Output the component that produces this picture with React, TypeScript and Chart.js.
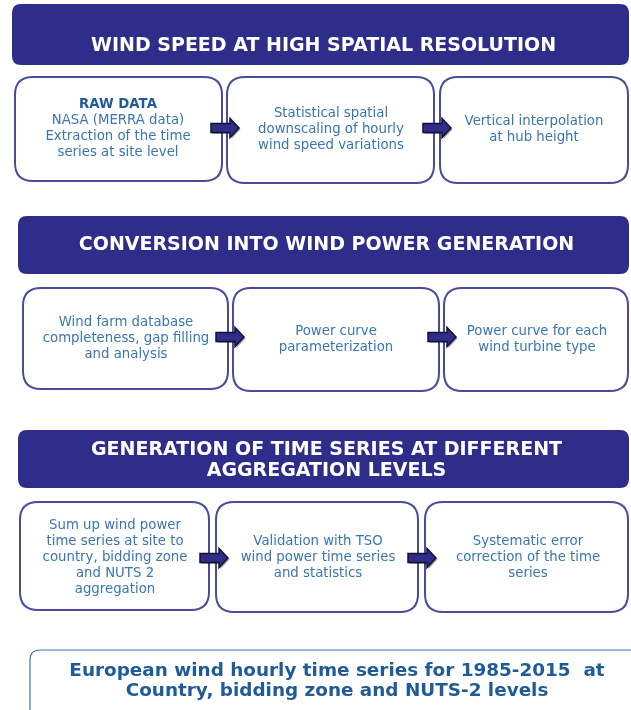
import React, { useEffect, useRef } from "react";
import { Chart, registerables } from "chart.js";
Chart.register(...registerables);

// ---- content ----
const headers: string[][] = [
  ["WIND SPEED AT HIGH SPATIAL RESOLUTION"],
  ["CONVERSION INTO WIND POWER GENERATION"],
  ["GENERATION OF TIME SERIES AT DIFFERENT", "AGGREGATION LEVELS"],
];
const row1Texts: string[][] = [
  ["RAW DATA", "NASA (MERRA data)", "Extraction of the time", "series at site level"],
  ["Statistical spatial", "downscaling of hourly", "wind speed variations"],
  ["Vertical interpolation", "at hub height"],
];
const row2Texts: string[][] = [
  ["Wind farm database", "completeness, gap filling", "and analysis"],
  ["Power curve", "parameterization"],
  ["Power curve for each", "wind turbine type"],
];
const row3Texts: string[][] = [
  ["Sum up wind power", "time series at site to", "country, bidding zone", "and NUTS 2", "aggregation"],
  ["Validation with TSO", "wind power time series", "and statistics"],
  ["Systematic error", "correction of the time", "series"],
];
const finalTexts: string[] = [
  "European wind hourly time series for 1985-2015  at",
  "Country, bidding zone and NUTS-2 levels",
];

// ---- layout (pixel-space coordinates mapped through chart scales) ----
type Rect = { x0: number; x1: number; y0: number; y1: number };
const headerRects: Rect[] = [
  { x0: 12, x1: 629, y0: 4, y1: 65 },
  { x0: 18, x1: 629, y0: 216, y1: 274 },
  { x0: 18, x1: 629, y0: 430, y1: 488 },
];
const headerTextY: number[][] = [[46], [245], [450, 471]];
const rowRects: Rect[][] = [
  [
    { x0: 15, x1: 222, y0: 77, y1: 181 },
    { x0: 227, x1: 434, y0: 77, y1: 183 },
    { x0: 440, x1: 628, y0: 77, y1: 183 },
  ],
  [
    { x0: 23, x1: 228, y0: 288, y1: 389 },
    { x0: 233, x1: 439, y0: 288, y1: 391 },
    { x0: 444, x1: 628, y0: 288, y1: 391 },
  ],
  [
    { x0: 20, x1: 209, y0: 502, y1: 610 },
    { x0: 216, x1: 418, y0: 502, y1: 612 },
    { x0: 425, x1: 628, y0: 502, y1: 612 },
  ],
];
const rowTextCenters: { cx: number; cy: number }[][] = [
  [ { cx: 118, cy: 129 }, { cx: 331, cy: 130 }, { cx: 534, cy: 130 } ],
  [ { cx: 126, cy: 339 }, { cx: 336, cy: 340 }, { cx: 537, cy: 340 } ],
  [ { cx: 115, cy: 558 }, { cx: 318, cy: 558 }, { cx: 528, cy: 558 } ],
];
const arrows: { x: number; y: number }[] = [
  { x: 211, y: 128 }, { x: 423, y: 128 },
  { x: 216, y: 337 }, { x: 428, y: 337 },
  { x: 200, y: 558 }, { x: 408, y: 558 },
];
const finalRect: Rect = { x0: 30, x1: 645, y0: 650, y1: 725 };
const finalTextY = [671, 691];
const finalCx = 337;

const NAVY = "#2e2e8a";
const BORDER = "#4b4b9e";
const TEXT = "#3a76b2";
const FINAL_TEXT = "#1f5b98";
const FONT = "'DejaVu Sans', Verdana, sans-serif";

const allRowTexts = [row1Texts, row2Texts, row3Texts];

function roundRect(ctx: CanvasRenderingContext2D, x0: number, y0: number, x1: number, y1: number, r: number) {
  ctx.beginPath();
  ctx.moveTo(x0 + r, y0);
  ctx.lineTo(x1 - r, y0);
  ctx.quadraticCurveTo(x1, y0, x1, y0 + r);
  ctx.lineTo(x1, y1 - r);
  ctx.quadraticCurveTo(x1, y1, x1 - r, y1);
  ctx.lineTo(x0 + r, y1);
  ctx.quadraticCurveTo(x0, y1, x0, y1 - r);
  ctx.lineTo(x0, y0 + r);
  ctx.quadraticCurveTo(x0, y0, x0 + r, y0);
  ctx.closePath();
}

const flowPlugin = {
  id: "flow",
  afterDatasetsDraw(chart: any) {
    const ctx: CanvasRenderingContext2D = chart.ctx;
    const xs = chart.scales.x;
    const ys = chart.scales.y;
    const px = (v: number) => xs.getPixelForValue(v);
    const py = (v: number) => ys.getPixelForValue(v);
    ctx.save();
    ctx.textAlign = "center";
    ctx.textBaseline = "middle";

    // headers
    headers.forEach((lines, i) => {
      const r = headerRects[i];
      ctx.fillStyle = NAVY;
      roundRect(ctx, px(r.x0), py(r.y0), px(r.x1), py(r.y1), 9);
      ctx.fill();
      ctx.fillStyle = "#ffffff";
      ctx.font = `bold 19px ${FONT}`;
      const cx = (px(r.x0) + px(r.x1)) / 2 + 3;
      lines.forEach((t, j) => ctx.fillText(t, cx, py(headerTextY[i][j])));
    });

    // boxes
    rowRects.forEach((row, ri) => {
      row.forEach((r, bi) => {
        ctx.fillStyle = "#ffffff";
        ctx.strokeStyle = BORDER;
        ctx.lineWidth = 2;
        roundRect(ctx, px(r.x0), py(r.y0), px(r.x1), py(r.y1), 18);
        ctx.fill();
        ctx.stroke();
        const lines = allRowTexts[ri][bi];
        const c = rowTextCenters[ri][bi];
        const lh = 16;
        const startY = c.cy - ((lines.length - 1) * lh) / 2;
        lines.forEach((t, j) => {
          const bold = t === "RAW DATA";
          ctx.font = `${bold ? "bold " : ""}13.3px ${FONT}`;
          ctx.fillStyle = bold ? FINAL_TEXT : TEXT;
          ctx.fillText(t, px(c.cx), py(startY + j * lh));
        });
      });
    });

    // arrows
    arrows.forEach((a) => {
      const x = px(a.x), y = py(a.y);
      const draw = () => {
        ctx.beginPath();
        ctx.moveTo(x, y - 4.5);
        ctx.lineTo(x + 19, y - 4.5);
        ctx.lineTo(x + 19, y - 9.5);
        ctx.lineTo(x + 28, y);
        ctx.lineTo(x + 19, y + 9.5);
        ctx.lineTo(x + 19, y + 4.5);
        ctx.lineTo(x, y + 4.5);
        ctx.closePath();
      };
      ctx.save();
      ctx.translate(1.5, 1.5);
      draw();
      ctx.fillStyle = "rgba(0,0,0,0.35)";
      ctx.fill();
      ctx.restore();
      draw();
      ctx.fillStyle = NAVY;
      ctx.fill();
      ctx.strokeStyle = "#111133";
      ctx.lineWidth = 1.5;
      ctx.stroke();
    });

    // final box
    ctx.strokeStyle = "#3a76b2";
    ctx.lineWidth = 1.2;
    ctx.fillStyle = "#ffffff";
    roundRect(ctx, px(finalRect.x0), py(finalRect.y0), px(finalRect.x1), py(finalRect.y1), 10);
    ctx.fill();
    ctx.stroke();
    ctx.font = `bold 18.4px ${FONT}`;
    ctx.fillStyle = FINAL_TEXT;
    finalTexts.forEach((t, j) => ctx.fillText(t, px(finalCx), py(finalTextY[j])));
    ctx.restore();
  },
};

export default function App() {
  const ref = useRef<HTMLCanvasElement>(null);
  useEffect(() => {
    if (!ref.current) return;
    const chart = new Chart(ref.current, {
      type: "scatter",
      data: {
        datasets: [
          {
            data: headerRects.map((r) => ({ x: (r.x0 + r.x1) / 2, y: (r.y0 + r.y1) / 2 })),
            pointRadius: 0,
          },
        ],
      },
      options: {
        animation: false,
        responsive: false,
        devicePixelRatio: 1,
        layout: { padding: 0 },
        plugins: { legend: { display: false }, tooltip: { enabled: false } },
        events: [],
        scales: {
          x: { type: "linear", min: 0, max: 631, display: false },
          y: { type: "linear", min: 0, max: 710, reverse: true, display: false },
        },
      },
      plugins: [flowPlugin],
    });
    return () => chart.destroy();
  }, []);
  return (
    <div style={{ position: "fixed", left: 0, top: 0, width: 631, height: 710, background: "#fff" }}>
      <canvas ref={ref} width={631} height={710} style={{ display: "block" }} />
    </div>
  );
}
